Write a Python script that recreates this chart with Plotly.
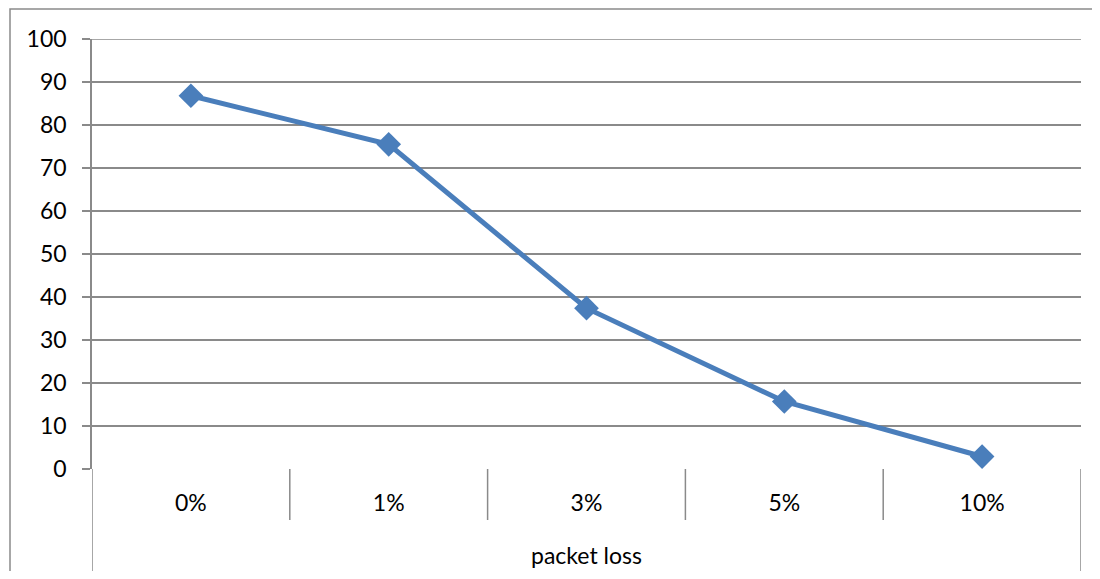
import plotly.graph_objects as go

categories = ["0%", "1%", "3%", "5%", "10%"]
values = [86.8, 75.5, 37.4, 15.7, 2.9]
y_ticks = [0, 10, 20, 30, 40, 50, 60, 70, 80, 90, 100]
x_title = "packet loss"

GRID = "#8a8a8a"
BLUE = "#4a7ebb"
FONT = "Lato"
FS = 23

fig = go.Figure()
fig.add_trace(go.Scatter(
    x=categories, y=values, mode="lines+markers",
    line=dict(color=BLUE, width=5),
    marker=dict(symbol="diamond", size=19, color=BLUE),
    showlegend=False, hoverinfo="skip",
))

OFF = 8  # page body margin
W, H = 1100 - 2 * OFF, 579 - 2 * OFF
L, R, T, B = 92 - OFF, W - (1081 - OFF), 39 - OFF, H - (469 - OFF)
ph = H - T - B
pw = W - L - R

fig.update_layout(
    width=W, height=H,
    margin=dict(l=L, r=R, t=T, b=B),
    paper_bgcolor="white", plot_bgcolor="white",
    font=dict(family=FONT, size=FS, color="black"),
)
fig.update_xaxes(
    type="category", range=[-0.5, len(categories) - 0.5],
    showgrid=False, zeroline=False, showline=False,
    ticks="", ticklabelstandoff=18,
    tickfont=dict(family=FONT, size=FS, color="black"),
)
fig.update_yaxes(
    range=[0, 100], tickvals=y_ticks,
    showgrid=True, gridcolor=GRID, gridwidth=1.5,
    zeroline=False, showline=True, linecolor=GRID, linewidth=1.5,
    ticks="outside", ticklen=8, tickcolor=GRID, tickwidth=1.5,
    ticklabelstandoff=11,
    tickfont=dict(family=FONT, size=FS, color="black"),
)

shapes = []
# top gridline (at range max)
shapes.append(dict(type="line", xref="paper", yref="y", x0=0, x1=1,
                   y0=y_ticks[-1], y1=y_ticks[-1], line=dict(color=GRID, width=1.5),
                   layer="below"))
# category dividers below axis
for i in range(len(categories) + 1):
    xb = i - 0.5
    outer = i == 0 or i == len(categories)
    ylow = -(103 / ph) if outer else -(51 / ph)
    shapes.append(dict(type="line", xref="x", yref="paper", x0=xb, x1=xb,
                       y0=0, y1=ylow, line=dict(color=GRID, width=1.5)))
# outer chart frame (extends past right and bottom edges)
shapes.append(dict(type="rect", xref="paper", yref="paper",
                   x0=(10 - OFF - L) / pw, x1=(W + 30 - L) / pw,
                   y0=-(H + 30 - T - ph) / ph, y1=1 + (T - (9 - OFF)) / ph,
                   line=dict(color=GRID, width=1.5), fillcolor="rgba(0,0,0,0)",
                   layer="below"))
fig.update_layout(shapes=shapes)

fig.add_annotation(text=x_title, xref="paper", yref="paper",
                   x=0.5, y=-(555 - 469) / ph, xanchor="center", yanchor="middle",
                   showarrow=False, font=dict(family=FONT, size=FS, color="black"))

fig.write_html("out.html")
